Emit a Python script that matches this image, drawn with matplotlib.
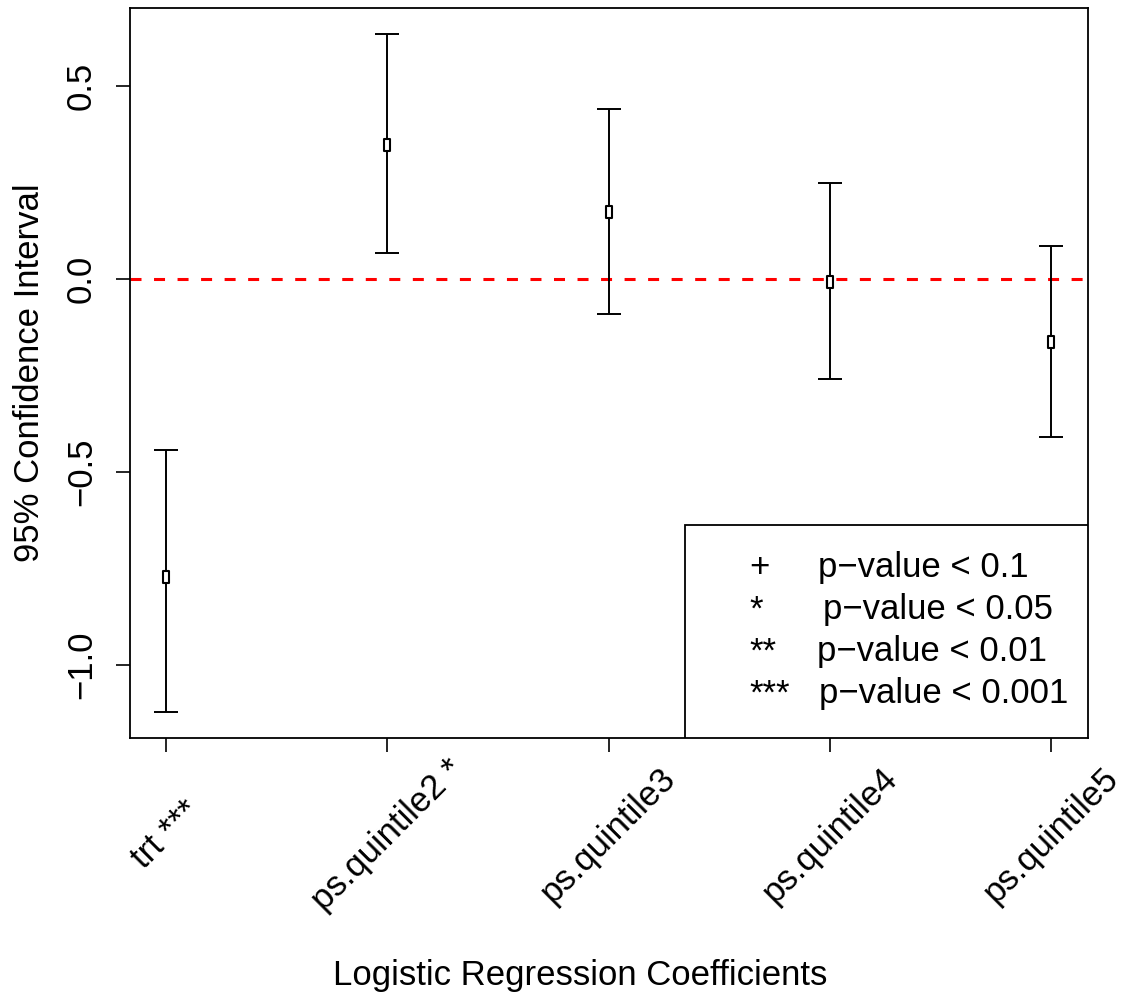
import numpy as np
import matplotlib
matplotlib.use("Agg")
import matplotlib.pyplot as plt
from matplotlib.path import Path
from matplotlib.patches import Rectangle

# coefficient estimates and 95% CI bounds
coef_names = ["trt ***", "ps.quintile2 *", "ps.quintile3", "ps.quintile4", "ps.quintile5"]
estimate = [-0.772, 0.347, 0.174, -0.008, -0.163]
ci_lower = [-1.122, 0.067, -0.091, -0.259, -0.409]
ci_upper = [-0.443, 0.635, 0.440, 0.249, 0.085]

legend_symbols = ["+", "*", "**", "***"]
legend_texts = ["p\u2212value < 0.1", "p\u2212value < 0.05", "p\u2212value < 0.01", "p\u2212value < 0.001"]

y_ticks = [-1.0, -0.5, 0.0, 0.5]


def main():
    plt.rcParams["font.family"] = ["Liberation Sans", "DejaVu Sans"]
    fs = 25

    fig = plt.figure(figsize=(11.3, 10.02), dpi=100)
    ax = fig.add_axes([130 / 1130, 1 - 738 / 1002, 958 / 1130, 730 / 1002])

    x = np.arange(1, len(coef_names) + 1)
    est = np.array(estimate)
    lo = np.array(ci_lower)
    hi = np.array(ci_upper)

    # zero reference line
    ax.axhline(0, color="red", lw=2.2, linestyle=(0, (3.6, 4.1)), zorder=1)

    # error bars
    ax.errorbar(x, est, yerr=[est - lo, hi - est], fmt="none", ecolor="black",
                elinewidth=1.4, capsize=8.6, capthick=1.4, zorder=2)

    # small open rectangles for the estimates
    box = Path([(-0.25, -0.5), (0.25, -0.5), (0.25, 0.5), (-0.25, 0.5), (-0.25, -0.5)],
               [Path.MOVETO, Path.LINETO, Path.LINETO, Path.LINETO, Path.CLOSEPOLY])
    ax.plot(x, est, linestyle="none", marker=box, markersize=9,
            markerfacecolor="white", markeredgecolor="black", markeredgewidth=1.5, zorder=3)

    ax.set_xlim(0.837, 5.167)
    ax.set_ylim(-1.189, 0.702)

    ax.set_yticks(y_ticks)
    ax.set_yticklabels([f"{v:.1f}".replace("-", "\u2212") for v in y_ticks],
                       rotation=90, va="center", fontsize=fs)
    ax.set_xticks(x)
    ax.set_xticklabels([])
    ax.tick_params(axis="both", length=10, width=1.2, direction="out", pad=13)
    for s in ax.spines.values():
        s.set_linewidth(1.3)

    # rotated category labels centred under each tick
    trans = matplotlib.transforms.blended_transform_factory(ax.transData, ax.transAxes)
    y_lab = (738 - 835) / 730
    for xi, name in zip(x, coef_names):
        ax.text(xi, y_lab, name, transform=trans, rotation=45, ha="center", va="center",
                rotation_mode="anchor", fontsize=fs, clip_on=False)

    # legend box
    ax.add_patch(Rectangle(((685 - 130) / 958, 0), 1 - (685 - 130) / 958, (738 - 525) / 730,
                           transform=ax.transAxes, facecolor="white", edgecolor="black",
                           lw=1.3, zorder=5))
    row_y = [568, 610, 652, 694]
    text_x = [818, 823, 817, 819]
    for sym, txt, ry, tx in zip(legend_symbols, legend_texts, row_y, text_x):
        ya = (738 - ry) / 730
        ax.text((749 - 130) / 958, ya, sym, transform=ax.transAxes, ha="left", va="center",
                fontsize=fs, zorder=6)
        ax.text((tx - 130) / 958, ya, txt, transform=ax.transAxes, ha="left", va="center",
                fontsize=fs, zorder=6)

    fig.text(30 / 1130, 1 - 373 / 1002, "95% Confidence Interval", rotation=90,
             ha="center", va="center", fontsize=fs)
    fig.text(580 / 1130, 1 - 975 / 1002, "Logistic Regression Coefficients",
             ha="center", va="center", fontsize=fs)

    fig.savefig("out.png", dpi=100, facecolor="white")


if __name__ == "__main__":
    main()
